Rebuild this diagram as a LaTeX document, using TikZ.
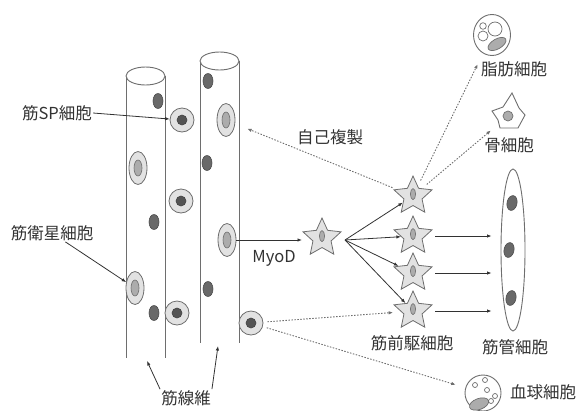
\documentclass[tikz,border=0pt]{standalone}
\usepackage{fontspec}
\newfontfamily\jpfont{Noto Sans CJK JP}
\usetikzlibrary{arrows.meta,shapes.geometric}
\definecolor{rimgray}{RGB}{110,110,110}
\definecolor{cellpale}{RGB}{226,226,226}
\definecolor{nucmid}{RGB}{172,172,172}
\definecolor{nucdark}{RGB}{105,105,105}
\definecolor{inkgray}{RGB}{50,50,50}
\tikzset{
  fiber/.style={draw=rimgray,line width=0.9pt},
  myonuc/.style={ellipse,draw=rimgray!70!black,fill=nucdark,line width=0.6pt,
                 minimum width=10pt,minimum height=15pt,inner sep=0pt},
  satcell/.style={ellipse,draw=rimgray,fill=cellpale,line width=0.8pt,
                  minimum width=18pt,minimum height=33pt,inner sep=0pt,
                  path picture={\draw[rimgray,fill=nucmid,line width=0.6pt]
                    (path picture bounding box.center) ellipse (4pt and 8pt);}},
  spcell/.style={circle,draw=rimgray,fill=cellpale,line width=0.8pt,
                 minimum size=24pt,inner sep=0pt,
                 path picture={\draw[rimgray!60!black,fill=nucdark!80!black,line width=0.6pt]
                   (path picture bounding box.center) circle (5pt);}},
  progen/.style={star,star points=5,star point ratio=2.1,draw=rimgray,fill=cellpale,
                 line width=0.8pt,minimum size=40pt,inner sep=0pt,
                 path picture={\draw[rimgray,fill=nucmid,line width=0.6pt]
                   (path picture bounding box.center) ellipse (2.6pt and 5.5pt);}},
  plaincell/.style={draw=rimgray,fill=white,line width=0.9pt,inner sep=0pt},
  lab/.style={font=\jpfont\fontsize{16.5}{18}\selectfont,text=inkgray,inner sep=1pt},
  flow/.style={-{Latex[length=4.5pt,width=3.5pt]},draw=inkgray,line width=0.8pt},
  fate/.style={flow,draw=rimgray,dash pattern=on 1.5pt off 1.5pt,line width=0.9pt},
}
\begin{document}
\begin{tikzpicture}[x=1pt,y=-1pt]
  \path[use as bounding box] (0,0) rectangle (577,410);

  % muscle fibres
  \draw[fiber] (126,76) -- (126,358) (165,76) -- (165,358);
  \draw[fiber,fill=white] (145.5,76) ellipse [x radius=19.5,y radius=9];
  \draw[fiber] (200,61) -- (200,343) (239,61) -- (239,343);
  \draw[fiber,fill=white] (219.5,61) ellipse [x radius=19.5,y radius=9];
  \coordinate (fb1) at (147,361);
  \coordinate (fb2) at (218,346);

  \node[myonuc] (fn1) at (158,101) {};
  \node[myonuc] (fn2) at (154,222) {};
  \node[myonuc] (fn3) at (154,313) {};
  \node[myonuc] (fn4) at (208,81) {};
  \node[myonuc] (fn5) at (207,163) {};
  \node[myonuc] (fn6) at (208,289) {};

  \node[satcell] (sat1) at (138,168) {};
  \node[satcell] (sat2) at (135,288) {};
  \node[satcell] (sat3) at (226,120) {};
  \node[satcell] (sat4) at (227,240) {};

  \node[spcell] (sp1) at (182,120) {};
  \node[spcell] (sp2) at (181,201) {};
  \node[spcell] (sp3) at (177,313) {};
  \node[spcell] (sp4) at (251,323) {};

  % progenitors
  \node[progen] (st0) at (322,238) {};
  \node[progen] (st1) at (413,196) {};
  \node[progen] (st2) at (413,236) {};
  \node[progen] (st3) at (413,273) {};
  \node[progen] (st4) at (413,311) {};
  \coordinate (fork) at (345,240);

  % myotube
  \node[ellipse,plaincell,minimum width=24pt,minimum height=162pt] (tube) at (513,250) {};
  \node[myonuc,rotate=-12] (tn1) at (512,203) {};
  \node[myonuc,rotate=-12] (tn2) at (509,250) {};
  \node[myonuc,rotate=-12] (tn3) at (511,298) {};

  % adipocyte, osteocyte, blood cell
  \node[ellipse,plaincell,minimum width=37pt,minimum height=41pt] (fat) at (492,35) {};
  \draw[rimgray,line width=0.7pt] (483,26) circle (3.3) (483,36) circle (5) (495,29) circle (7);
  \draw[rimgray,fill=nucmid,line width=0.7pt,rotate around={30:(497,44)}]
    (497,44) ellipse [x radius=10,y radius=5];
  \node[circle,draw=rimgray,fill=nucmid,line width=0.7pt,minimum size=10pt,inner sep=0pt]
    (bone) at (508,116) {};
  \draw[rimgray,line width=0.9pt] (512,93) -- (519,108) -- (525,115) -- (518,128)
    -- (500,128) -- (498,120) -- (492,111) -- (503,107) -- cycle;
  \node[circle,plaincell,minimum size=36pt] (blood) at (483,393) {};
  \draw[rimgray,line width=0.7pt] (475,385) circle (2.5) (485,380) circle (2.5)
    (487,390) circle (2.5) (495,396) circle (2.5) (491,401) circle (2.5);
  \draw[rimgray,fill=nucmid,line width=0.7pt,rotate around={20:(479,404)}]
    (479,404) ellipse [x radius=10,y radius=5.5];

  % labels
  \node[lab] (lblSP) at (57,113) {筋SP細胞};
  \node[lab] (lblSat) at (52,233) {筋衛星細胞};
  \node[lab] (lblFib) at (186,398) {筋線維};
  \node[lab] (lblMyoD) at (274,258) {MyoD};
  \node[lab] (lblSelf) at (330,137) {自己複製};
  \node[lab] (lblFat) at (514,69) {脂肪細胞};
  \node[lab] (lblBone) at (509,145) {骨細胞};
  \node[lab] (lblProg) at (412,343) {筋前駆細胞};
  \node[lab] (lblTube) at (515,347) {筋管細胞};
  \node[lab] (lblBlood) at (543,392) {血球細胞};

  % connectors
  \draw[flow] (lblSP.east) -- (sp1);
  \draw[flow] (lblSat) -- (sat2);
  \draw[flow] (lblFib.north west) -- (fb1);
  \draw[flow] (lblFib.north east) -- (fb2);
  \draw[flow,shorten >=20pt] (sat4.east) -- (sat4.east -| st0.center);
  \draw[flow] (fork) -- (st1);
  \draw[flow] (fork) -- (st2);
  \draw[flow] (fork) -- (st3);
  \draw[flow] (fork) -- (st4);
  \draw[flow,shorten <=22pt,shorten >=9pt] (st2.center) -- (st2.center -| tube.west);
  \draw[flow,shorten <=22pt,shorten >=9pt] (st3.center) -- (st3.center -| tube.west);
  \draw[flow,shorten <=22pt,shorten >=9pt] (st4.center) -- (st4.center -| tube.west);

  \draw[fate,shorten <=4pt,shorten >=13pt] (st1) -- (sat3);
  \draw[fate,shorten <=6pt,shorten >=12pt] (st1) -- (fat);
  \draw[fate,shorten <=6pt,shorten >=17pt] (st1) -- (bone);
  \draw[fate,shorten <=4pt,shorten >=8pt] (sp4) -- (st4);
  \draw[fate,shorten <=4pt,shorten >=10pt] (sp4) -- (blood);
\end{tikzpicture}
\end{document}
